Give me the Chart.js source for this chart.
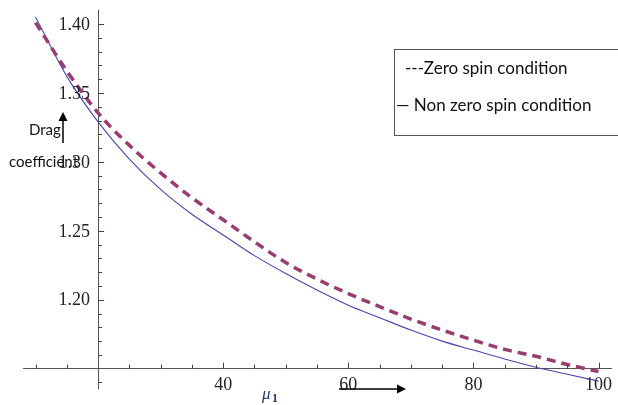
<!DOCTYPE html>
<html>
<head>
<meta charset="utf-8">
<script src="https://cdn.jsdelivr.net/npm/chart.js@4/dist/chart.umd.min.js"></script>
<style>
html, body { margin: 0; padding: 0; background: #fff; }
#wrap { width: 618px; height: 405px; }
</style>
</head>
<body>
<div id="wrap"><canvas id="dragChart"></canvas></div>
<script>
// values
var muValues = [10, 15, 20, 25, 30, 35, 40, 45, 50, 55, 60, 65, 70, 75, 80, 85, 90, 95, 100];
var zeroSpin = [1.401, 1.366, 1.3355, 1.312, 1.292, 1.274, 1.258, 1.242, 1.227, 1.215, 1.2045, 1.195, 1.186, 1.178, 1.1707, 1.164, 1.159, 1.153, 1.148];
var nonZeroSpin = [1.405, 1.362, 1.329, 1.302, 1.280, 1.262, 1.247, 1.232, 1.219, 1.207, 1.196, 1.187, 1.178, 1.170, 1.1635, 1.157, 1.151, 1.146, 1.141];
var xTickLabels = [40, 60, 80, 100];
var yTickLabels = [1.20, 1.25, 1.30, 1.35, 1.40];
var legendLines = ["---Zero spin condition", "\u2014 Non zero spin condition"];
var xAxisCross = 1.15, yAxisCross = 20;

function toPoints(ys) {
    var pts = [];
    for (var i = 0; i < muValues.length; i++) {
        pts.push({ x: muValues[i], y: ys[i] });
    }
    return pts;
}

function isStep(v, step) {
    var r = v / step;
    return Math.abs(r - Math.round(r)) < 1e-6;
}

// Mathematica style tick marks on the inner side of the axes, plus the y labels
var tickMarks = {
    id: 'tickMarks',
    afterDraw: function (chart) {
        var ctx = chart.ctx, xs = chart.scales.x, ys = chart.scales.y;
        var axisY = ys.getPixelForValue(xAxisCross);
        var axisX = xs.getPixelForValue(yAxisCross);
        ctx.save();
        ctx.strokeStyle = '#444';
        ctx.lineWidth = 1;
        ctx.beginPath();
        xs.ticks.forEach(function (t) {
            if (t.value === yAxisCross) return;
            var px = Math.round(xs.getPixelForValue(t.value)) + 0.5;
            var len = isStep(t.value, 20) ? 6 : 4;
            ctx.moveTo(px, axisY);
            ctx.lineTo(px, axisY - len);
        });
        ys.ticks.forEach(function (t) {
            if (Math.abs(t.value - xAxisCross) < 1e-6) return;
            var py = Math.round(ys.getPixelForValue(t.value)) + 0.5;
            var len = isStep(t.value, 0.05) ? 6 : 4;
            ctx.moveTo(axisX, py);
            ctx.lineTo(axisX + len, py);
        });
        ctx.stroke();

        ctx.fillStyle = '#222';
        ctx.font = '18px "Liberation Serif"';
        ctx.textAlign = 'right';
        ctx.textBaseline = 'middle';
        yTickLabels.forEach(function (v) {
            ctx.fillText(v.toFixed(2), axisX - 8, ys.getPixelForValue(v) + 1);
        });
        ctx.restore();
    }
};

function arrowHead(ctx, tipX, tipY, dx, dy) {
    var back = 9, half = 4.5;
    ctx.beginPath();
    ctx.moveTo(tipX, tipY);
    ctx.lineTo(tipX - dx * back - dy * half, tipY - dy * back + dx * half);
    ctx.lineTo(tipX - dx * back + dy * half, tipY - dy * back - dx * half);
    ctx.closePath();
    ctx.fill();
}

// legend box, axis captions and arrows
var annotations = {
    id: 'annotations',
    afterDraw: function (chart) {
        var ctx = chart.ctx;
        ctx.save();
        ctx.strokeStyle = '#555';
        ctx.lineWidth = 1;
        ctx.strokeRect(394.5, 49.5, 260, 86);

        ctx.fillStyle = '#111';
        ctx.textBaseline = 'middle';
        ctx.textAlign = 'left';
        ctx.font = '17px Lato';
        ctx.fillText(legendLines[0], 405, 69);
        ctx.fillText(legendLines[1], 396, 106);

        ctx.font = '15px Lato';
        ctx.fillText('Drag', 29, 130);
        ctx.fillText('coefficient', 9, 162);

        ctx.fillStyle = '#000';
        ctx.strokeStyle = '#000';
        ctx.lineWidth = 1.5;
        ctx.beginPath();
        ctx.moveTo(63, 143);
        ctx.lineTo(63, 118);
        ctx.stroke();
        arrowHead(ctx, 63, 112, 0, -1);

        ctx.beginPath();
        ctx.moveTo(339, 389);
        ctx.lineTo(398, 389);
        ctx.stroke();
        arrowHead(ctx, 406, 389, 1, 0);

        ctx.fillStyle = '#1f3566';
        ctx.font = 'italic 17px "Liberation Serif"';
        ctx.fillText('\u03bc', 262, 395);
        ctx.font = 'bold 12px "Liberation Serif"';
        ctx.fillText('1', 272, 399);
        ctx.restore();
    }
};

new Chart(document.getElementById('dragChart').getContext('2d'), {
    type: 'line',
    data: {
        datasets: [{
            label: 'Zero spin condition',
            data: toPoints(zeroSpin),
            borderColor: '#993d71',
            borderWidth: 3.5,
            borderDash: [9, 6],
            pointRadius: 0,
            fill: false,
            cubicInterpolationMode: 'monotone'
        },
        {
            label: 'Non zero spin condition',
            data: toPoints(nonZeroSpin),
            borderColor: '#4646ad',
            borderWidth: 1.1,
            pointRadius: 0,
            fill: false,
            cubicInterpolationMode: 'monotone'
        }]
    },
    options: {
        responsive: true,
        maintainAspectRatio: false,
        animation: false,
        layout: { padding: { left: 23, right: 0, top: 10, bottom: 17 } },
        plugins: {
            legend: { display: false },
            tooltip: { enabled: false }
        },
        scales: {
            x: {
                type: 'linear',
                min: 8,
                max: 102,
                position: { y: xAxisCross },
                grid: { drawOnChartArea: false, drawTicks: false },
                border: { color: '#555', width: 1 },
                afterBuildTicks: function (scale) {
                    var t = [];
                    for (var v = 10; v <= 100; v += 5) t.push({ value: v });
                    scale.ticks = t;
                },
                ticks: {
                    autoSkip: false,
                    maxRotation: 0,
                    padding: 6,
                    color: '#222',
                    font: { family: '"Liberation Serif", serif', size: 18 },
                    callback: function (v) {
                        return xTickLabels.indexOf(v) >= 0 ? String(v) : '';
                    }
                }
            },
            y: {
                type: 'linear',
                min: 1.136,
                max: 1.41,
                position: { x: yAxisCross },
                grid: { drawOnChartArea: false, drawTicks: false },
                border: { color: '#555', width: 1 },
                afterBuildTicks: function (scale) {
                    var t = [];
                    for (var k = 114; k <= 140; k++) t.push({ value: k / 100 });
                    scale.ticks = t;
                },
                ticks: {
                    autoSkip: false,
                    callback: function () { return ''; }
                }
            }
        }
    },
    plugins: [tickMarks, annotations]
});
</script>
</body>
</html>
